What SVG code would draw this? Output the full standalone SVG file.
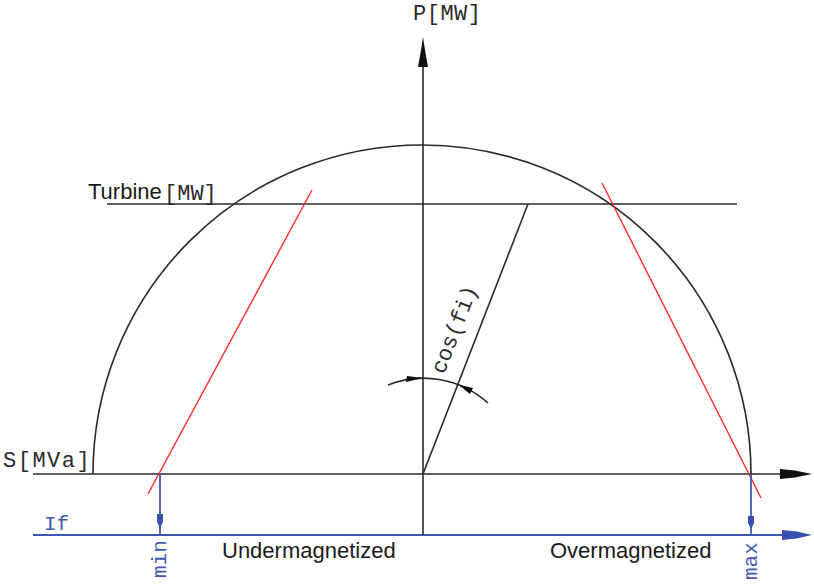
<svg xmlns="http://www.w3.org/2000/svg" width="814" height="585" viewBox="0 0 814 585">
<style>
.ln{stroke:#2a2a2a;stroke-width:1.6;fill:none}
.rd{stroke:#ff2a2a;stroke-width:1.4;fill:none}
.bl{stroke:#3f58b0;stroke-width:1.8;fill:none}
.ah{fill:#111}
.bh{fill:#3552b0}
.cad{font-family:"Liberation Mono","DejaVu Sans Mono",monospace;font-size:22px;fill:#2a2a2a}
.cadb{font-family:"Liberation Mono","DejaVu Sans Mono",monospace;font-size:21px;fill:#3f58b0}
.ar{font-family:"Liberation Sans",Arial,sans-serif;font-size:22px;fill:#1a1a1a}
</style>
<rect width="814" height="585" fill="#fff"/>
<g id="connectors">
<line class="ln" x1="33" y1="474" x2="785" y2="474"/>
<polygon class="ah" points="780,469 795,470.5 812,474 795,477.5 780,479"/>
<line class="bl" x1="33" y1="535" x2="785" y2="535"/>
<polygon class="bh" points="782,530 797,531.5 812,535 797,538.5 782,540"/>
<line class="ln" x1="423" y1="60" x2="423" y2="535"/>
<polygon class="ah" points="423,37 425,50 428,67 418,67 421,50"/>
<path class="ln" d="M93,474 A329,329 0 0 1 751,474"/>
<line class="ln" x1="107" y1="204" x2="737" y2="204"/>
<line class="ln" x1="423" y1="474" x2="528" y2="204"/>
<line class="rd" x1="148" y1="494" x2="312" y2="190"/>
<line class="rd" x1="602" y1="183" x2="761" y2="498"/>
<line class="bl" x1="160" y1="474" x2="160" y2="535"/>
<polygon class="bh" points="157,514 163,514 163,522 160,528 157,522"/>
<line class="bl" x1="751" y1="474" x2="751" y2="535"/>
<polygon class="bh" points="748,516 754,516 754,523 751,529 748,523"/>
<path class="ln" d="M388,385 A96,96 0 0 1 488,403" stroke-width="1.3"/>
<polygon class="ah" points="423,378 407,376 406,382"/>
<polygon class="ah" points="458,384.5 473,388 470,394"/>
</g>
<g id="labels">
<text class="cad" x="413" y="20" letter-spacing="0.5">P[MW]</text>
<text class="ar" x="88" y="199">Turbine</text>
<text class="cad" x="164" y="200">[MW]</text>
<text class="cad" x="3" y="467" letter-spacing="1.5">S[MVa]</text>
<text class="cadb" x="44" y="530">If</text>
<text class="cadb" transform="translate(166,578) rotate(-90)">min</text>
<text class="cadb" transform="translate(757,580) rotate(-90)">max</text>
<text class="ar" x="222" y="558">Undermagnetized</text>
<text class="ar" x="550" y="558">Overmagnetized</text>
<text class="cad" transform="translate(444,375) rotate(-68.75)">cos(fi)</text>
</g>
</svg>
